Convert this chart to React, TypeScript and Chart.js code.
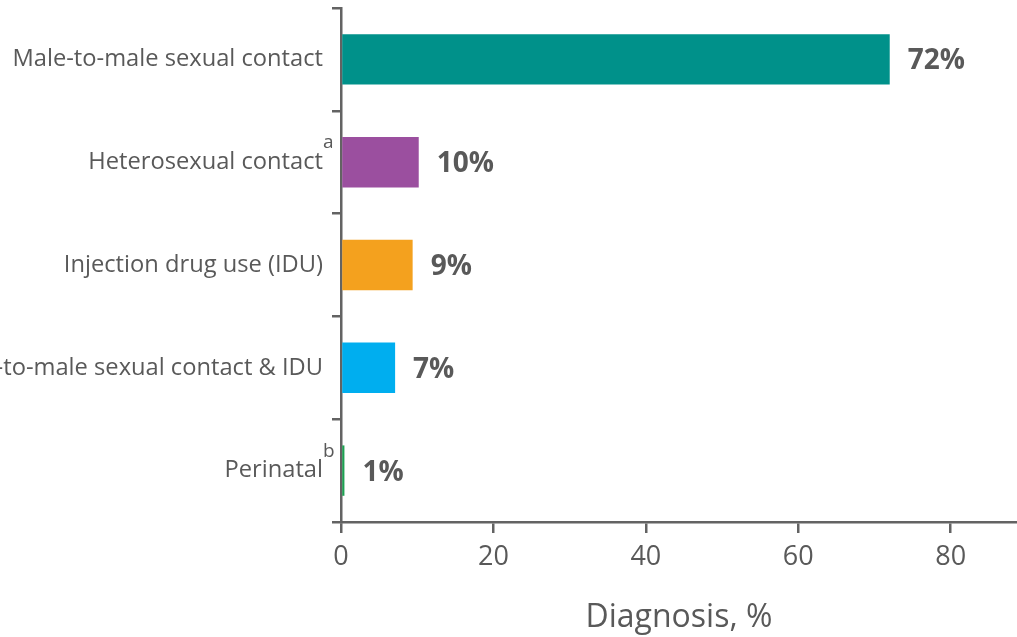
import React, { useEffect, useRef } from "react";
import { Chart, registerables } from "chart.js";

Chart.register(...registerables);

const categories = [
  "Male-to-male sexual contact",
  "Heterosexual contact",
  "Injection drug use (IDU)",
  "Male-to-male sexual contact & IDU",
  "Perinatal",
];
const footnotes = ["", "a", "", "", "b"];
const values = [72, 10.2, 9.4, 7.1, 0.45];
const valueLabels = ["72%", "10%", "9%", "7%", "1%"];
const barColors = ["#00918A", "#9B4F9F", "#F4A11E", "#00AEEF", "#1DA152"];
const xTicks = [0, 20, 40, 60, 80];
const xMax = 88.7;
const xTitle = "Diagnosis, %";

const TEXT = "#595959";
const AXIS = "#636363";
const FAMILY = "'Open Sans', sans-serif";

const annotate = {
  id: "annotate",
  afterDatasetsDraw(chart: any) {
    const ctx = chart.ctx;
    const meta = chart.getDatasetMeta(0);
    const yScale = chart.scales.y;
    ctx.save();
    ctx.fillStyle = TEXT;
    ctx.font = `bold 28px ${FAMILY}`;
    ctx.textBaseline = "middle";
    ctx.textAlign = "left";
    meta.data.forEach((bar: any, i: number) => {
      ctx.fillText(valueLabels[i], bar.x + 18, bar.y + 2);
    });
    ctx.font = `19px ${FAMILY}`;
    ctx.textBaseline = "alphabetic";
    footnotes.forEach((f, i) => {
      if (!f) return;
      const y = yScale.getPixelForValue(i);
      ctx.fillText(f, yScale.right - 18, y - 14);
    });
    ctx.restore();
  },
};

export default function App() {
  const ref = useRef<HTMLCanvasElement>(null);
  useEffect(() => {
    if (!ref.current) return;
    const chart = new Chart(ref.current, {
      type: "bar",
      data: {
        labels: categories,
        datasets: [
          {
            data: values,
            backgroundColor: barColors,
            borderWidth: 0,
            barPercentage: 0.49,
            categoryPercentage: 1,
          },
        ],
      },
      options: {
        indexAxis: "y",
        responsive: false,
        animation: false,
        layout: { padding: { top: 8, right: 0, bottom: 0, left: 0 } },
        plugins: { legend: { display: false }, tooltip: { enabled: false } },
        scales: {
          x: {
            min: 0,
            max: xMax,
            afterBuildTicks(scale: any) {
              scale.ticks = xTicks.map((v) => ({ value: v }));
            },
            afterFit(scale: any) {
              scale.height = 115;
              scale.paddingLeft = 0;
              scale.paddingRight = 0;
            },
            border: { color: AXIS, width: 2.5 },
            grid: { drawOnChartArea: false, tickLength: 11, color: AXIS, lineWidth: 2.5 },
            ticks: { color: TEXT, font: { family: FAMILY, size: 27 }, padding: 8, maxRotation: 0 },
            title: { display: true, text: xTitle, color: TEXT, font: { family: FAMILY, size: 32 }, padding: 0 },
          },
          y: {
            afterFit(scale: any) {
              scale.width = 341;
              scale.paddingTop = 0;
              scale.paddingBottom = 0;
            },
            border: { color: AXIS, width: 2.5 },
            grid: { drawOnChartArea: false, tickLength: 9, color: AXIS, lineWidth: 2.5, offset: true },
            ticks: { color: TEXT, font: { family: FAMILY, size: 23.7 }, padding: 9 },
          },
        },
      },
      plugins: [annotate],
    } as any);
    return () => chart.destroy();
  }, []);
  return (
    <div style={{ position: "fixed", left: 0, top: 0, width: 1017, height: 637, background: "#fff" }}>
      <canvas ref={ref} width={1017} height={637} />
    </div>
  );
}
